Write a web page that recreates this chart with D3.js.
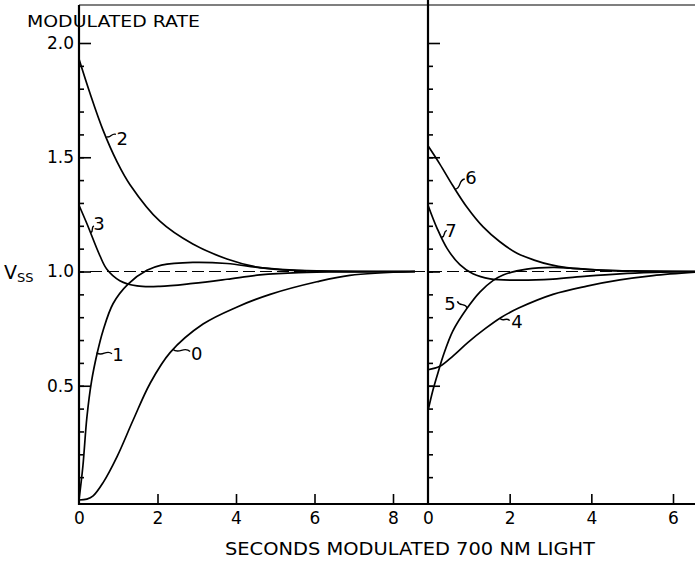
<!DOCTYPE html>
<html>
<head>
<meta charset="utf-8">
<script src="https://cdn.jsdelivr.net/npm/d3@7"></script>
<style>
  body { margin: 0; background: #fff; }
  text { font-family: "DejaVu Sans", sans-serif; fill: #000; }
</style>
</head>
<body>
<div id="chart"></div>
<script>
// values (t in seconds, V = Vss)
const yTicksMajor = [0.5, 1.0, 1.5, 2.0];
const yTicksMinor = d3.range(1, 20).map((d) => d / 10);
const leftXTicks = [0, 2, 4, 6, 8];
const rightXTicks = [0, 2, 4, 6];

const t0 = [0, 0.2, 0.36, 0.61, 0.97, 1.38, 1.81, 2.32, 3.16, 4.03, 4.87, 6.06, 6.9, 8.56];
const v0 = [0, 0.004, 0.018, 0.075, 0.19, 0.35, 0.51, 0.645, 0.77, 0.845, 0.9, 0.955, 0.983, 1.0];

const t1 = [0, 0.1, 0.2, 0.32, 0.46, 0.61, 0.87, 1.25, 1.73, 2.1, 2.9, 3.77, 4.61, 5.6, 8.56];
const v1 = [0, 0.15, 0.36, 0.52, 0.64, 0.74, 0.86, 0.945, 1.005, 1.028, 1.04, 1.035, 1.017, 1.005, 1.0];

const t2 = [0, 0.28, 0.61, 0.97, 1.3, 2.06, 2.9, 3.77, 4.61, 5.6, 8.56];
const v2 = [1.93, 1.78, 1.62, 1.48, 1.38, 1.22, 1.12, 1.055, 1.017, 1.004, 1.0];

const t3 = [0, 0.2, 0.53, 0.71, 1.04, 1.48, 2.06, 2.9, 3.77, 4.61, 5.6, 8.56];
const v3 = [1.29, 1.21, 1.07, 1.01, 0.96, 0.937, 0.935, 0.948, 0.966, 0.985, 0.995, 1.0];

const t4 = [0, 0.29, 0.61, 0.98, 1.4, 1.8, 2.22, 3.06, 3.89, 4.7, 5.51, 6.54];
const v4 = [0.57, 0.585, 0.63, 0.69, 0.75, 0.8, 0.84, 0.9, 0.936, 0.963, 0.982, 0.997];

const t5 = [0, 0.12, 0.25, 0.37, 0.61, 0.96, 1.27, 1.59, 1.84, 2.42, 3.06, 3.48, 4.21, 5.2, 6.54];
const v5 = [0.39, 0.48, 0.56, 0.63, 0.74, 0.84, 0.91, 0.96, 0.985, 1.01, 1.018, 1.015, 1.006, 1.002, 1.0];

const t6 = [0, 0.29, 0.61, 0.96, 1.35, 1.76, 2.18, 2.6, 2.99, 3.4, 4.21, 5.2, 6.54];
const v6 = [1.55, 1.47, 1.375, 1.28, 1.195, 1.13, 1.08, 1.05, 1.03, 1.017, 1.006, 1.002, 1.0];

const t7 = [0, 0.22, 0.47, 0.78, 1.1, 1.52, 2.25, 3.06, 3.89, 4.7, 5.51, 6.54];
const v7 = [1.29, 1.19, 1.1, 1.03, 0.99, 0.968, 0.962, 0.967, 0.98, 0.99, 0.996, 1.0];

// curve labels: [name, panel, text t, text V, leader start t, leader start V, leader end t, leader end V]
const curveLabels = [
  ["0", "L", 3.0, 0.64, 2.39, 0.66, 2.83, 0.65],
  ["1", "L", 0.99, 0.635, 0.45, 0.645, 0.84, 0.64],
  ["2", "L", 1.1, 1.58, 0.7, 1.59, 0.94, 1.6],
  ["3", "L", 0.51, 1.21, 0.3, 1.17, 0.38, 1.2],
  ["4", "R", 2.18, 0.78, 1.76, 0.795, 2.0, 0.785],
  ["5", "R", 0.54, 0.86, 0.96, 0.84, 0.72, 0.87],
  ["6", "R", 1.05, 1.41, 0.66, 1.36, 0.9, 1.405],
  ["7", "R", 0.56, 1.18, 0.34, 1.15, 0.46, 1.18],
];

const width = 695;
const height = 563;

const svg = d3
  .select("#chart")
  .append("svg")
  .attr("width", width)
  .attr("height", height);

const xL = d3.scaleLinear().domain([0, 8]).range([79, 393]);
const xR = d3.scaleLinear().domain([0, 6]).range([428, 673]);
const y = d3.scaleLinear().domain([0, 2]).range([500, 43]);

const axisY = 504;

// frame lines
svg.append("line").attr("x1", 79).attr("x2", width).attr("y1", 5).attr("y2", 5)
  .attr("stroke", "#000").attr("stroke-width", 1.2);
svg.append("line").attr("x1", 79).attr("x2", 79).attr("y1", 5).attr("y2", axisY + 1)
  .attr("stroke", "#000").attr("stroke-width", 2.2);
svg.append("line").attr("x1", 428).attr("x2", 428).attr("y1", 0).attr("y2", axisY + 1)
  .attr("stroke", "#000").attr("stroke-width", 2.2);
svg.append("line").attr("x1", 79).attr("x2", width).attr("y1", axisY).attr("y2", axisY)
  .attr("stroke", "#000").attr("stroke-width", 2.2);

// dashed reference at 1.0
svg.append("line")
  .attr("x1", 90).attr("x2", width)
  .attr("y1", y(1)).attr("y2", y(1))
  .attr("stroke", "#000").attr("stroke-width", 1.1)
  .attr("stroke-dasharray", "12,5");

// y ticks on both panels
function yTicks(x0) {
  const g = svg.append("g").attr("transform", `translate(${x0},0)`);
  g.call(d3.axisRight(y).tickValues(yTicksMinor).tickSize(5).tickFormat(""));
  g.append("g").call(d3.axisRight(y).tickValues(yTicksMajor).tickSize(12).tickFormat(""));
  g.selectAll(".domain").remove();
  g.selectAll("line").attr("stroke", "#000").attr("stroke-width", 1.6);
}
yTicks(79);
yTicks(428);

// y tick labels
const yLab = svg.append("g").attr("transform", "translate(79,0)")
  .call(d3.axisLeft(y).tickValues(yTicksMajor).tickSize(0).tickPadding(5)
    .tickFormat(d3.format(".1f")));
yLab.select(".domain").remove();
yLab.selectAll("text").style("font-size", "17px").style("font-family", "DejaVu Sans");

// x ticks
function xAxis(scale, ticks) {
  const up = svg.append("g").attr("transform", `translate(0,${axisY})`)
    .call(d3.axisTop(scale).tickValues(ticks.filter((d) => d > 0)).tickSize(10).tickFormat(""));
  up.select(".domain").remove();
  up.selectAll("line").attr("stroke", "#000").attr("stroke-width", 1.6);
  const lab = svg.append("g").attr("transform", `translate(0,${axisY})`)
    .call(d3.axisBottom(scale).tickValues(ticks).tickSize(0).tickPadding(8).tickFormat(d3.format("d")));
  lab.select(".domain").remove();
  lab.selectAll("text").style("font-size", "17px").style("font-family", "DejaVu Sans");
}
xAxis(xL, leftXTicks);
xAxis(xR, rightXTicks);

// curves
const curves = [
  [xL, t0, v0], [xL, t1, v1], [xL, t2, v2], [xL, t3, v3],
  [xR, t4, v4], [xR, t5, v5], [xR, t6, v6], [xR, t7, v7],
];
curves.forEach(([sx, ts, vs]) => {
  const line = d3.line()
    .x((d) => sx(d[0]))
    .y((d) => y(d[1]))
    .curve(d3.curveCatmullRom.alpha(0.5));
  svg.append("path")
    .datum(ts.map((t, i) => [t, vs[i]]))
    .attr("d", line)
    .attr("fill", "none")
    .attr("stroke", "#000")
    .attr("stroke-width", 1.7);
});

// curve labels with little leaders
curveLabels.forEach(([name, panel, tx, tv, sx0, sv0, ex0, ev0]) => {
  const sx = panel === "L" ? xL : xR;
  const x1 = sx(sx0), y1 = y(sv0), x2 = sx(ex0), y2 = y(ev0);
  const dx = x2 - x1, dy = y2 - y1;
  svg.append("path")
    .attr("d", `M${x1},${y1} C${x1 + dx * 0.4 - dy * 0.3},${y1 + dy * 0.4 + dx * 0.3} ${x1 + dx * 0.6 + dy * 0.3},${y1 + dy * 0.6 - dx * 0.3} ${x2},${y2}`)
    .attr("fill", "none").attr("stroke", "#000").attr("stroke-width", 1.4);
  svg.append("text")
    .attr("x", sx(tx)).attr("y", y(tv))
    .attr("text-anchor", "middle").attr("dominant-baseline", "central")
    .style("font-size", "18px")
    .text(name);
});

// titles
svg.append("text").attr("x", 27).attr("y", 27)
  .attr("textLength", 173).attr("lengthAdjust", "spacingAndGlyphs")
  .style("font-size", "16px").text("MODULATED RATE");

svg.append("text").attr("x", 225).attr("y", 555)
  .attr("textLength", 370).attr("lengthAdjust", "spacingAndGlyphs")
  .style("font-size", "18px").text("SECONDS MODULATED 700 NM LIGHT");

const vss = svg.append("text").attr("x", 4).attr("y", 279).style("font-size", "19px");
vss.append("tspan").text("V");
vss.append("tspan").attr("dx", 0).attr("dy", 3).style("font-size", "13px").text("SS");
</script>
</body>
</html>
